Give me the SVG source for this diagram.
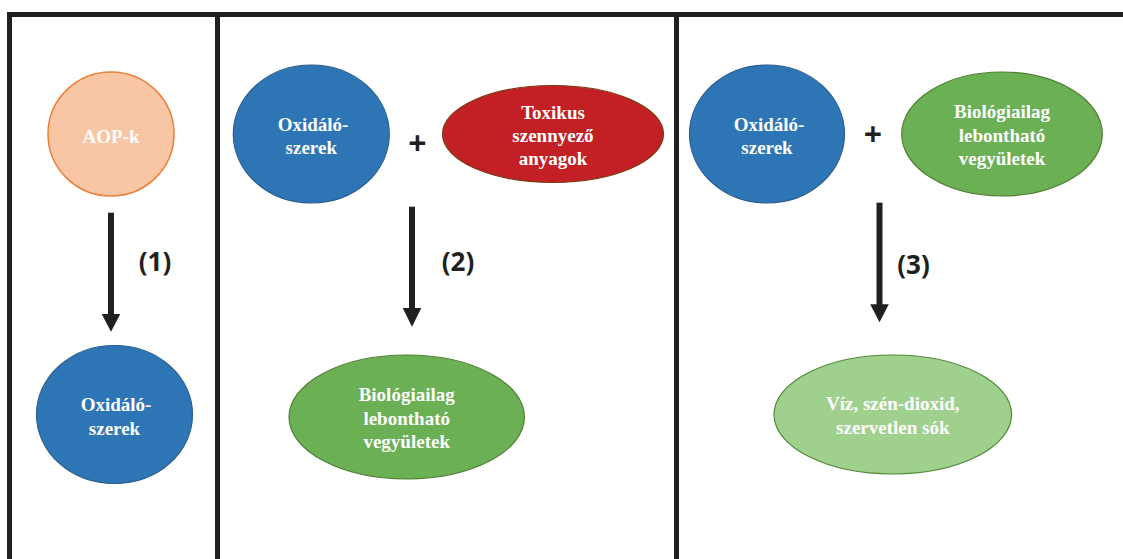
<svg xmlns="http://www.w3.org/2000/svg" width="1123" height="559" viewBox="0 0 1123 559">
<style>
.frame{stroke:#231f20;stroke-width:5;fill:none}
.t{font-family:"Liberation Serif","Times New Roman",serif;font-weight:bold;font-size:19px;fill:#ffffff;text-anchor:middle}
.lbl{font-family:"Open Sans","DejaVu Sans",sans-serif;font-weight:bold;font-size:26px;fill:#231f20;text-anchor:middle}
.plus{font-family:"Open Sans","DejaVu Sans",sans-serif;font-weight:bold;font-size:32px;fill:#231f20;text-anchor:middle}
.blue{fill:#2e75b6;stroke:#2a5e8f;stroke-width:1.2}
.green{fill:#6cb056;stroke:#4f7f33;stroke-width:1.2}
.lgreen{fill:#9fd08e;stroke:#4f8a35;stroke-width:1.2}
.red{fill:#c32026;stroke:#7a3a10;stroke-width:1.2}
.orange{fill:#f8c6a5;stroke:#ee7f36;stroke-width:1.5}
.shaft{stroke:#231f20;stroke-width:6}
.head{fill:#231f20}
</style>
<rect width="1123" height="559" fill="#ffffff"/>
<g id="frame">
<line class="frame" x1="7" y1="14.5" x2="1123" y2="14.5"/>
<line class="frame" x1="9.5" y1="12" x2="9.5" y2="559"/>
<line class="frame" x1="217.5" y1="12" x2="217.5" y2="559"/>
<line class="frame" x1="676.5" y1="12" x2="676.5" y2="559"/>
</g>
<g id="aop">
<ellipse class="orange" cx="111" cy="134" rx="63" ry="62"/>
<text class="t" x="111" y="142.5">AOP-k</text>
</g>
<g id="oxi1">
<ellipse class="blue" cx="114.5" cy="414.5" rx="78" ry="69"/>
<text class="t" x="116" y="410.5">Oxidáló-</text>
<text class="t" x="114.5" y="435">szerek</text>
</g>
<g id="oxi2">
<ellipse class="blue" cx="311.3" cy="134" rx="78" ry="69"/>
<text class="t" x="313" y="130.7">Oxidáló-</text>
<text class="t" x="311.3" y="154">szerek</text>
</g>
<g id="plus2">
<text class="plus" x="417.5" y="155">+</text>
</g>
<g id="toxic">
<ellipse class="red" cx="553" cy="134" rx="110.5" ry="48.5"/>
<text class="t" x="553" y="118.5">Toxikus</text>
<text class="t" x="553" y="141.5">szennyező</text>
<text class="t" x="553" y="164.5">anyagok</text>
</g>
<g id="bio2">
<ellipse class="green" cx="406.7" cy="417" rx="117.7" ry="62"/>
<text class="t" x="406.7" y="401">Biológiailag</text>
<text class="t" x="406.7" y="424.5">lebontható</text>
<text class="t" x="406.7" y="447.5">vegyületek</text>
</g>
<g id="oxi3">
<ellipse class="blue" cx="767" cy="134" rx="77.5" ry="69"/>
<text class="t" x="769" y="130.7">Oxidáló-</text>
<text class="t" x="767" y="154">szerek</text>
</g>
<g id="plus3">
<text class="plus" x="873" y="146">+</text>
</g>
<g id="bio3">
<ellipse class="green" cx="1002" cy="134" rx="100.3" ry="62"/>
<text class="t" x="1002" y="118.3">Biológiailag</text>
<text class="t" x="1002" y="141.5">lebontható</text>
<text class="t" x="1002" y="164.5">vegyületek</text>
</g>
<g id="products">
<ellipse class="lgreen" cx="892.8" cy="414.5" rx="118.8" ry="59.5"/>
<text class="t" x="892.8" y="410">Víz, szén-dioxid,</text>
<text class="t" x="892.8" y="434">szervetlen sók</text>
</g>
<g id="connectors">
<line class="shaft" x1="111" y1="212.7" x2="111" y2="316"/>
<polygon class="head" points="101.7,314 120.3,314 111,331.7"/>
<text class="lbl" x="155" y="271">(1)</text>
<line class="shaft" x1="412" y1="206.7" x2="412" y2="310"/>
<polygon class="head" points="402.7,308 421.3,308 412,326.7"/>
<text class="lbl" x="458" y="271">(2)</text>
<line class="shaft" x1="879.5" y1="202.7" x2="879.5" y2="306"/>
<polygon class="head" points="870.2,304.3 888.8,304.3 879.5,322.3"/>
<text class="lbl" x="913.5" y="274">(3)</text>
</g>
</svg>
